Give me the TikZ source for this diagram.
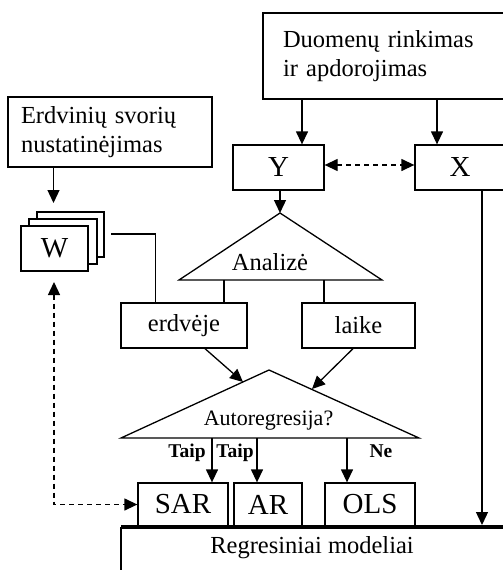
\documentclass[tikz,border=0pt]{standalone}
\usepackage{fontspec}
\setmainfont{Liberation Serif}
\usetikzlibrary{arrows.meta,calc}
\begin{document}
\begin{tikzpicture}[x=1pt,y=-1pt,
  every path/.style={line width=1.3pt},
  box/.style={draw,line width=1.3pt,inner sep=0pt,fill=white},
  arr/.style={-{Triangle[length=13pt,width=12pt]}},
  darr/.style={{Triangle[length=13pt,width=12pt]}-{Triangle[length=13pt,width=12pt]},dash pattern=on 5pt off 4pt},
  txt/.style={font=\fontsize{24.5}{29}\selectfont},
  big/.style={font=\fontsize{29}{32}\selectfont},
  lbl/.style={font=\fontsize{19.5}{22}\selectfont\bfseries,inner sep=0pt,anchor=base}]
\useasboundingbox (0,0) rectangle (503,570);
% top boxes
\node[box,txt,minimum width=242,minimum height=86,inner xsep=20pt,text width=202pt,align=left] (duom) at (384,56) {Duomenų rinkimas\\ir apdorojimas};
\node[box,txt,minimum width=204,minimum height=70,inner xsep=13pt,text width=178pt,align=left] (erd) at (110,132) {Erdvinių svorių\\nustatinėjimas};
\node[box,big,minimum width=91,minimum height=45] (Y) at (278.5,167.5) {Y};
\node[box,big,minimum width=90,minimum height=45] (X) at (460,167.5) {X};
% W stack
\node[box,minimum width=67,minimum height=45] (w3) at (70.5,234.5) {};
\node[box,minimum width=68,minimum height=45] (w2) at (63,241.5) {};
\node[box,big,minimum width=67,minimum height=45] (W) at (54.5,248.5) {W};
% analysis triangle
\coordinate (aTop) at (280,213);
\draw (aTop) -- (382,280) -- (179,280) -- cycle;
\node[txt,inner sep=0pt,anchor=base] (ana) at (270,270) {Analizė};
\node[box,txt,minimum width=126,minimum height=45] (erdv) at (184,325.5) {erdvėje};
\node[box,txt,minimum width=113,minimum height=45] (laike) at (358.5,325.5) {laike};
\coordinate (aL) at (224,280);
\coordinate (aR) at (324,280);
% autoregression triangle
\coordinate (bTop) at (269,370);
\draw (bTop) -- (419,438) -- (121,438) -- cycle;
\node[inner sep=0pt,anchor=base,font=\fontsize{22}{26}\selectfont] (auto) at (268.5,425) {Autoregresija?};
\coordinate (bL) at (243,382);
\coordinate (bR) at (312,389);
\coordinate (t1) at (212,438);
\coordinate (t2) at (257,438);
\coordinate (t3) at (347,438);
\node[lbl] (taip1) at (187,457) {Taip};
\node[lbl] (taip2) at (235,457) {Taip};
\node[lbl] (ne) at (381,457) {Ne};
% model boxes
\node[box,big,minimum width=90,minimum height=43] (sar) at (183,504.5) {SAR};
\node[box,big,minimum width=68,minimum height=43] (ar) at (268,504.5) {AR};
\node[box,big,minimum width=90,minimum height=43] (ols) at (370,504.5) {OLS};
% regression models box
\coordinate (regL) at (121,527);
\coordinate (regR) at (510,527);
\coordinate (regB) at (121,580);
\draw (regL) -- (regB);
\draw[line width=4pt] (regL) -- (regR);
\node[txt,inner sep=0pt,anchor=base] (reg) at (312,553) {Regresiniai modeliai};
% connectors
\coordinate (dY) at (302,0);
\coordinate (dX) at (437,0);
\draw[arr] (duom.south -| dY) -- (Y.north -| dY);
\draw[arr] (duom.south -| dX) -- (X.north -| dX);
\draw[darr] ([yshift=2.5pt]Y.east) -- ([yshift=2.5pt]X.west);
\draw[arr] (Y.south -| aTop) -- (aTop);
\draw (aL) -- (erdv.north -| aL);
\draw (aR) -- (laike.north -| aR);
\draw[arr] ($(erdv.south)+(21,0)$) -- (bL);
\draw[arr] ($(laike.south)+(-5.5,0)$) -- (bR);
\draw[arr] (t1) -- (sar.north -| t1);
\draw[arr] (t2) -- (ar.north -| t2);
\draw[arr] (t3) -- (ols.north -| t3);
\coordinate (xa) at (482,525);
\draw[arr] (X.south -| xa) -- (xa);
\coordinate (wtop) at (53.5,203);
\draw[arr] (erd.south -| wtop) -- (wtop);
\coordinate (wl) at (111,234);
\draw (wl) -| ($(erdv.north west)+(35,0)$);
\coordinate (wbot) at (54,282);
\draw[darr] (wbot) |- (sar.west);
\end{tikzpicture}
\end{document}
